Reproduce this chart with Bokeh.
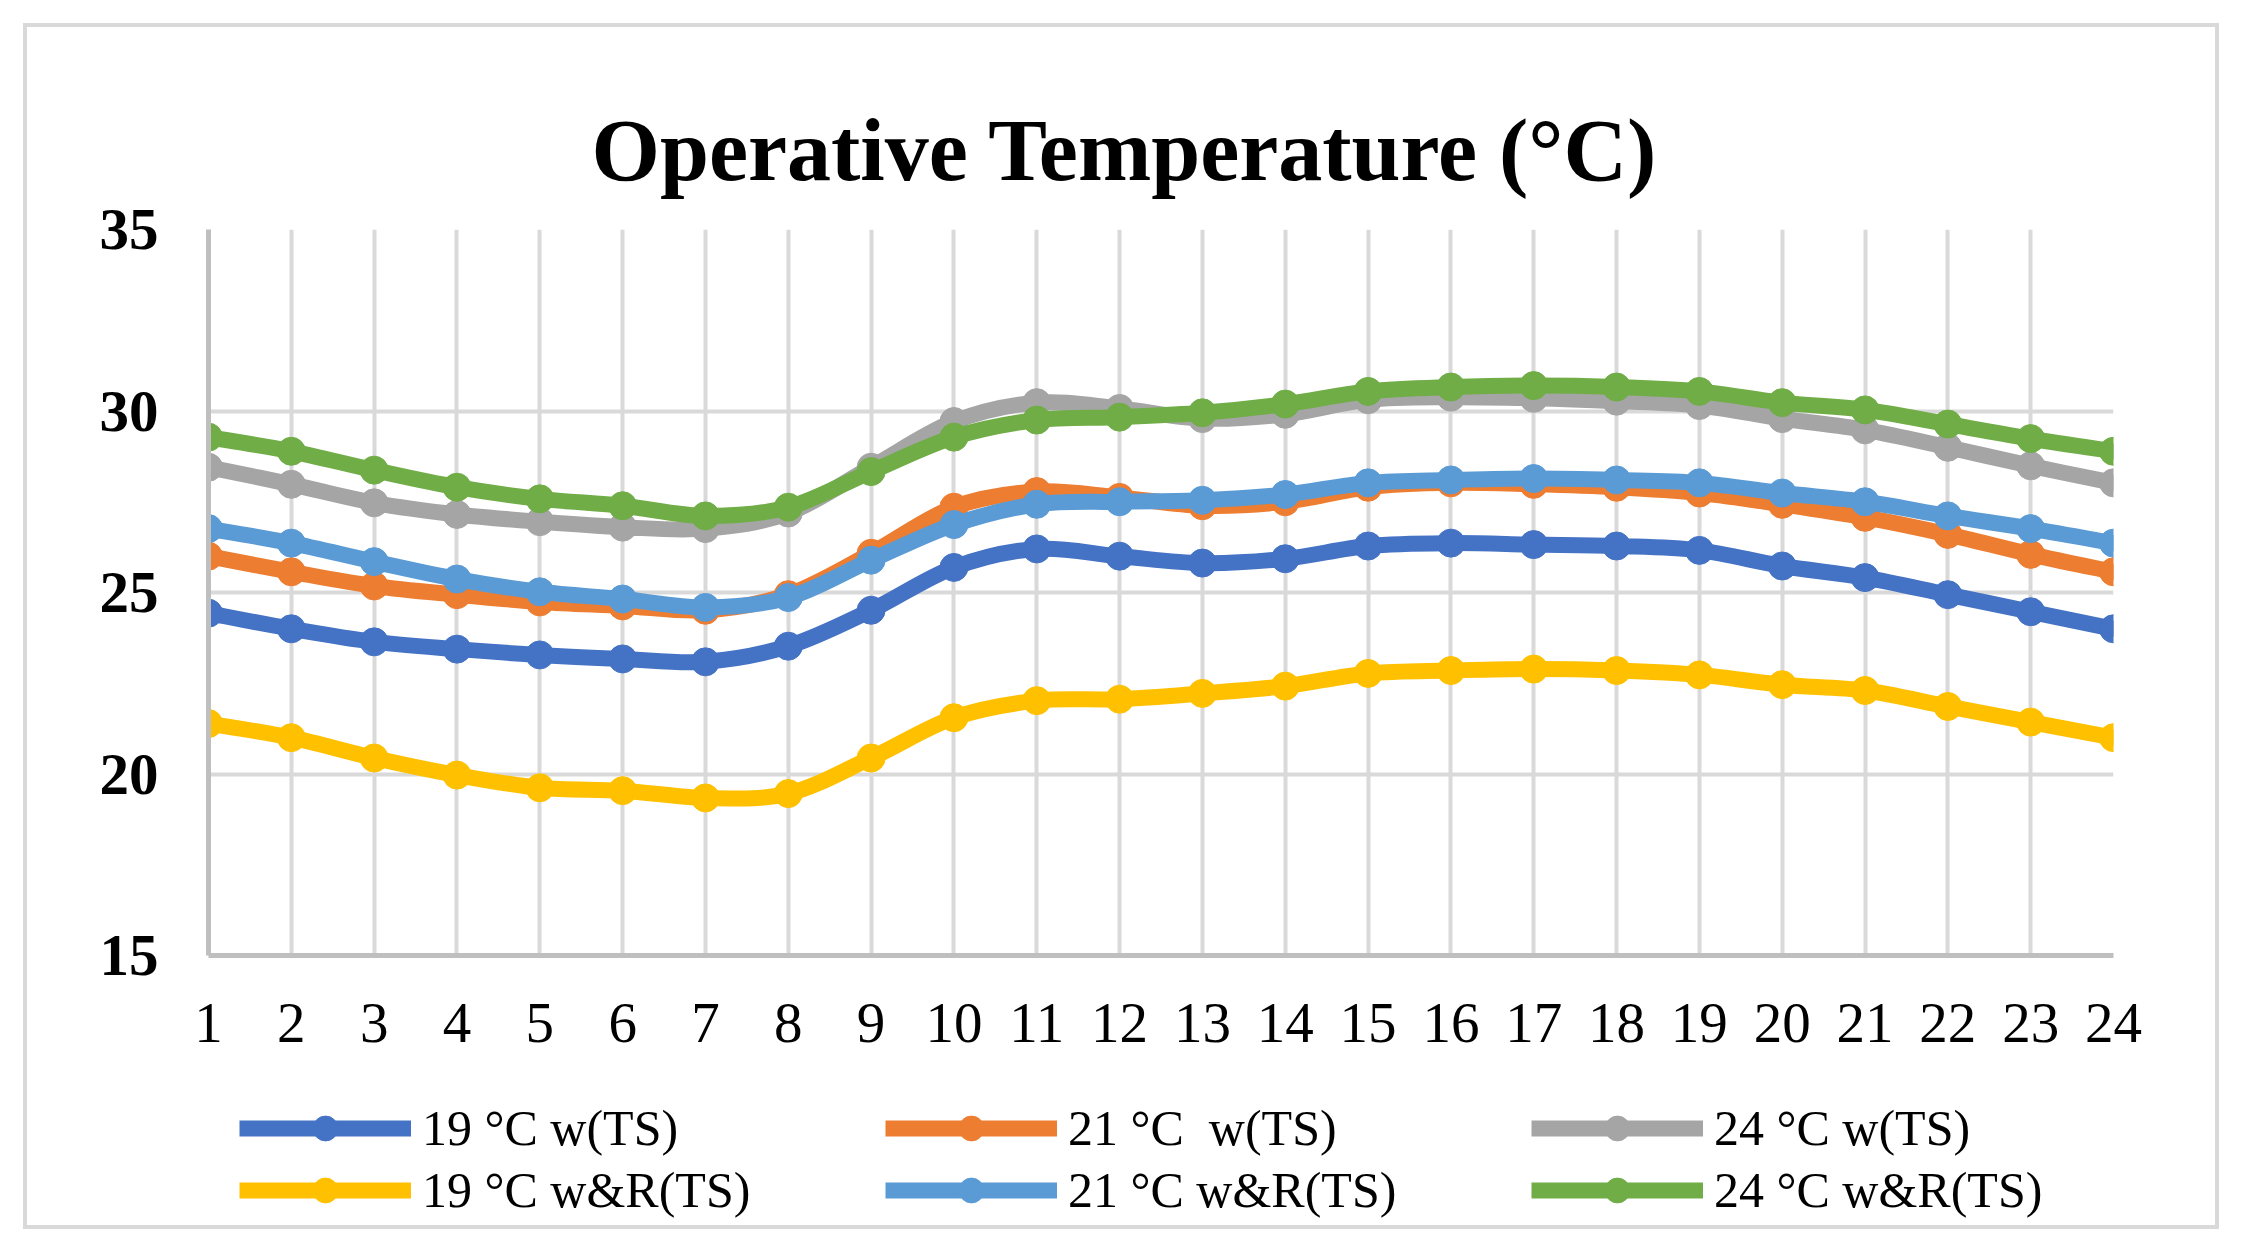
from bokeh.plotting import figure
from bokeh.layouts import column
from bokeh.models import FixedTicker, Legend, LegendItem, Range1d, Title
from bokeh.embed import file_html
from bokeh.resources import INLINE

# hours of the day
hours = list(range(1, 25))

# operative temperature per scenario
t19_w = [24.43, 24.00, 23.64, 23.44, 23.28, 23.17, 23.09, 23.52, 24.51, 25.69, 26.20, 26.00,
         25.81, 25.93, 26.28, 26.36, 26.32, 26.28, 26.16, 25.73, 25.41, 24.94, 24.47, 24.00]
t21_w = [26.00, 25.57, 25.18, 24.94, 24.74, 24.63, 24.51, 24.94, 26.08, 27.35, 27.78, 27.62,
         27.39, 27.50, 27.90, 28.02, 27.98, 27.90, 27.74, 27.43, 27.07, 26.60, 26.05, 25.57]
t24_w = [28.45, 27.98, 27.47, 27.15, 26.95, 26.80, 26.76, 27.19, 28.45, 29.71, 30.23, 30.07,
         29.79, 29.91, 30.31, 30.38, 30.35, 30.27, 30.15, 29.79, 29.48, 29.00, 28.49, 28.02]
t19_wr = [21.39, 21.00, 20.44, 19.97, 19.62, 19.54, 19.34, 19.46, 20.44, 21.55, 22.02, 22.06,
          22.22, 22.42, 22.77, 22.85, 22.89, 22.85, 22.73, 22.46, 22.30, 21.86, 21.43, 21.00]
t21_wr = [26.76, 26.36, 25.85, 25.37, 25.02, 24.82, 24.59, 24.86, 25.89, 26.87, 27.43, 27.50,
          27.54, 27.70, 28.02, 28.10, 28.14, 28.10, 28.02, 27.74, 27.50, 27.11, 26.76, 26.36]
t24_wr = [29.28, 28.89, 28.37, 27.90, 27.58, 27.39, 27.11, 27.35, 28.33, 29.28, 29.75, 29.83,
          29.95, 30.19, 30.54, 30.66, 30.70, 30.66, 30.54, 30.23, 30.03, 29.64, 29.24, 28.89]

labels = ["19 \u00b0C w(TS)", "21 \u00b0C  w(TS)", "24 \u00b0C w(TS)",
          "19 \u00b0C w&R(TS)", "21 \u00b0C w&R(TS)", "24 \u00b0C w&R(TS)"]
colors = ["#4472C4", "#ED7D31", "#A5A5A5", "#FFC000", "#5B9BD5", "#70AD47"]
series = [t19_w, t21_w, t24_w, t19_wr, t21_wr, t24_wr]

y_ticks = [15, 20, 25, 30, 35]
SERIF = "Liberation Serif"
LINE_W = 16
MARK = 28


def smooth(xs, ys):
    # bezier control points for an Excel-like smoothed line
    n = len(xs)
    seg = {k: [] for k in ("x0", "y0", "x1", "y1", "cx0", "cy0", "cx1", "cy1")}
    for i in range(n - 1):
        xa, ya = (xs[i - 1], ys[i - 1]) if i > 0 else (xs[i], ys[i])
        xd, yd = (xs[i + 2], ys[i + 2]) if i + 2 < n else (xs[i + 1], ys[i + 1])
        seg["x0"].append(xs[i]); seg["y0"].append(ys[i])
        seg["x1"].append(xs[i + 1]); seg["y1"].append(ys[i + 1])
        seg["cx0"].append(xs[i] + (xs[i + 1] - xa) / 6)
        seg["cy0"].append(ys[i] + (ys[i + 1] - ya) / 6)
        seg["cx1"].append(xs[i + 1] - (xd - xs[i]) / 6)
        seg["cy1"].append(ys[i + 1] - (yd - ys[i]) / 6)
    return seg


# main chart
p = figure(frame_width=1905, frame_height=726, output_backend="svg", toolbar_location=None,
           x_range=Range1d(1, 24), y_range=Range1d(15, 35),
           min_border_left=181, min_border_right=102, min_border_top=202, min_border_bottom=130)
p.outline_line_color = None
p.background_fill_color = "white"
p.border_fill_color = "white"

p.add_layout(Title(text="Operative Temperature (\u00b0C)", text_font=SERIF, text_font_size="88px",
                   text_font_style="bold", text_color="black", align="left", offset=383,
                   standoff=61), "above")

p.xaxis.ticker = FixedTicker(ticks=hours)
p.yaxis.ticker = FixedTicker(ticks=y_ticks)
for ax in (p.xaxis, p.yaxis):
    ax.axis_line_color = "#bfbfbf"
    ax.axis_line_width = 5
    ax.major_tick_line_color = None
    ax.minor_tick_line_color = None
    ax.major_label_text_font = SERIF
    ax.major_label_text_color = "black"
p.xaxis.major_label_text_font_size = "57px"
p.xaxis.major_label_standoff = 42
p.yaxis.major_label_text_font_size = "59px"
p.yaxis.major_label_text_font_style = "bold"
p.yaxis.major_label_standoff = 44

p.xgrid.ticker = FixedTicker(ticks=hours)
p.ygrid.ticker = FixedTicker(ticks=y_ticks)
p.grid.grid_line_color = "#d9d9d9"
p.grid.grid_line_width = 4

for col, vals in zip(colors, series):
    seg = smooth(hours, vals)
    p.bezier(source=seg, x0="x0", y0="y0", x1="x1", y1="y1", cx0="cx0", cy0="cy0",
             cx1="cx1", cy1="cy1", line_color=col, line_width=LINE_W, line_cap="round")
    p.scatter(hours, vals, size=MARK, fill_color=col, line_color=col)

# legend strip below the chart (its own renderers sit outside the visible range)
lg = figure(frame_width=2188, frame_height=140, output_backend="svg", toolbar_location=None,
            x_range=Range1d(100, 200), y_range=Range1d(100, 200),
            x_axis_type=None, y_axis_type=None,
            min_border_left=0, min_border_right=0, min_border_top=0, min_border_bottom=0)
lg.outline_line_color = None
lg.background_fill_color = "white"
lg.border_fill_color = "white"

items = []
for name, col, vals in zip(labels, colors, series):
    ln = lg.line(hours, vals, line_color=col, line_width=LINE_W)
    pts = lg.scatter(hours, vals, size=MARK, fill_color=col, line_color=col)
    items.append(LegendItem(label=name, renderers=[ln, pts]))

legend = Legend(items=items, orientation="horizontal", ncols=3, location=(212, 4),
                label_text_font=SERIF, label_text_font_size="50px", label_text_color="black",
                glyph_width=172, glyph_height=62, label_standoff=11, label_width=463,
                spacing=0, padding=0, margin=0, border_line_color=None,
                background_fill_alpha=0)
lg.add_layout(legend)

page = column(p, lg, spacing=0)
page.margin = (23, 0, 0, 23)
page.styles = {"border": "4px solid #d9d9d9"}

open("out.html", "w").write(file_html(page, INLINE))
